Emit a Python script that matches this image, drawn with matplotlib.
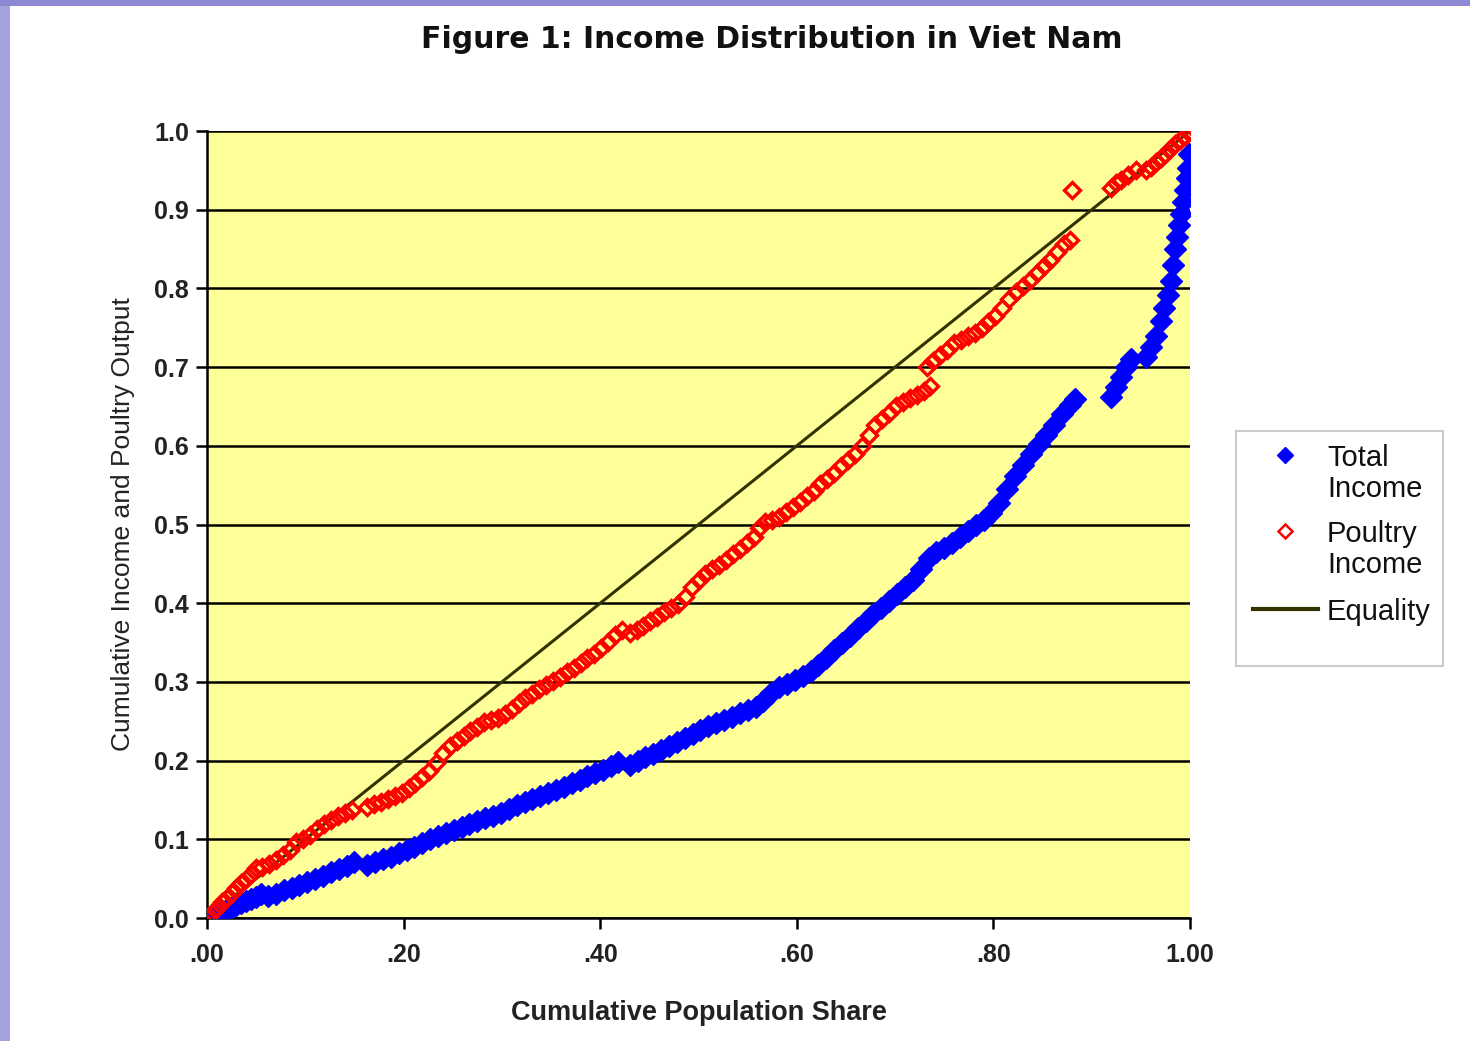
import matplotlib
matplotlib.use("Agg")
import matplotlib.pyplot as plt
from matplotlib.patches import Rectangle
from matplotlib.lines import Line2D
import numpy as np

# Total income: cumulative population share vs cumulative share
total_x = [0.000, 0.005, 0.010, 0.015, 0.020, 0.025, 0.030, 0.035, 0.040, 0.045,
           0.050, 0.055, 0.062, 0.070, 0.078, 0.086, 0.094, 0.102, 0.110, 0.118,
           0.126, 0.134, 0.142, 0.150, 0.163, 0.171, 0.179, 0.187, 0.195, 0.203,
           0.211, 0.219, 0.227, 0.235, 0.243, 0.251, 0.259, 0.267, 0.275, 0.283,
           0.291, 0.299, 0.307, 0.315, 0.323, 0.331, 0.339, 0.347, 0.355, 0.363,
           0.371, 0.379, 0.387, 0.395, 0.403, 0.411, 0.418, 0.430, 0.438, 0.446,
           0.454, 0.462, 0.470, 0.478, 0.486, 0.494, 0.502, 0.510, 0.518, 0.526,
           0.534, 0.542, 0.550, 0.558, 0.566, 0.574, 0.582, 0.590, 0.598, 0.606,
           0.614, 0.622, 0.630, 0.638, 0.646, 0.654, 0.662, 0.670, 0.678, 0.686,
           0.694, 0.702, 0.710, 0.718, 0.726, 0.734, 0.742, 0.750, 0.758, 0.766,
           0.774, 0.782, 0.790, 0.798, 0.806, 0.814, 0.822, 0.830, 0.838, 0.846,
           0.854, 0.862, 0.870, 0.878, 0.883,
           0.920, 0.925, 0.930, 0.935, 0.940,
           0.955, 0.960, 0.965, 0.970, 0.974, 0.978, 0.981, 0.983, 0.985, 0.987,
           0.989, 0.991, 0.993, 0.995, 0.997, 0.998, 0.999]
total_y = [0.000, 0.002, 0.005, 0.008, 0.011, 0.014, 0.017, 0.019, 0.022, 0.024,
           0.027, 0.030, 0.028, 0.031, 0.035, 0.038, 0.042, 0.046, 0.050, 0.054,
           0.058, 0.062, 0.066, 0.071, 0.067, 0.071, 0.075, 0.078, 0.082, 0.086,
           0.090, 0.095, 0.100, 0.104, 0.108, 0.112, 0.115, 0.119, 0.123, 0.127,
           0.130, 0.134, 0.139, 0.143, 0.147, 0.151, 0.155, 0.159, 0.163, 0.167,
           0.171, 0.175, 0.180, 0.184, 0.188, 0.193, 0.198, 0.194, 0.199, 0.204,
           0.209, 0.214, 0.219, 0.224, 0.229, 0.234, 0.239, 0.244, 0.248, 0.252,
           0.256, 0.260, 0.264, 0.268, 0.276, 0.286, 0.293, 0.297, 0.302, 0.308,
           0.314, 0.322, 0.330, 0.340, 0.349, 0.358, 0.368, 0.378, 0.386, 0.394,
           0.403, 0.412, 0.420, 0.430, 0.444, 0.457, 0.465, 0.470, 0.476, 0.484,
           0.492, 0.499, 0.506, 0.515, 0.527, 0.545, 0.561, 0.575, 0.589, 0.602,
           0.614, 0.626, 0.640, 0.652, 0.660,
           0.662, 0.675, 0.688, 0.700, 0.710,
           0.713, 0.725, 0.740, 0.758, 0.775, 0.792, 0.810, 0.830, 0.850, 0.865,
           0.880, 0.895, 0.910, 0.925, 0.940, 0.953, 0.971]

# Poultry income
poultry_x = [0.000, 0.005, 0.010, 0.015, 0.020, 0.025, 0.030, 0.035, 0.040, 0.045,
             0.050, 0.056, 0.063, 0.070, 0.077, 0.084, 0.091, 0.098, 0.105, 0.112,
             0.119, 0.126, 0.133, 0.140, 0.148,
             0.163, 0.170, 0.177, 0.184, 0.191, 0.198, 0.205, 0.212, 0.219, 0.226,
             0.233, 0.240, 0.247, 0.254, 0.261, 0.268, 0.275, 0.282, 0.289, 0.296,
             0.303, 0.310, 0.317, 0.324, 0.331, 0.338, 0.345, 0.352, 0.359, 0.366,
             0.373, 0.380, 0.387, 0.394, 0.401, 0.408, 0.415, 0.422, 0.430, 0.437,
             0.444, 0.451, 0.458, 0.465, 0.472, 0.479, 0.486, 0.493, 0.500, 0.507,
             0.514, 0.521, 0.528, 0.535, 0.542, 0.549, 0.556, 0.562, 0.568, 0.575,
             0.582, 0.589, 0.596, 0.603, 0.610, 0.617, 0.624, 0.631, 0.638, 0.645,
             0.652, 0.659, 0.666, 0.673, 0.680, 0.687, 0.694, 0.701, 0.708, 0.715,
             0.722, 0.729, 0.736,
             0.732, 0.739, 0.746, 0.753, 0.760, 0.767, 0.774, 0.781, 0.788, 0.795,
             0.802, 0.809, 0.816, 0.823, 0.830, 0.837, 0.844, 0.851, 0.858, 0.865,
             0.872, 0.878,
             0.880,
             0.920, 0.925, 0.930, 0.937, 0.945, 0.955, 0.960, 0.965, 0.970, 0.975,
             0.980, 0.985, 0.990, 0.995, 1.000]
poultry_y = [0.000, 0.006, 0.013, 0.020, 0.026, 0.032, 0.038, 0.044, 0.050, 0.056,
             0.063, 0.065, 0.069, 0.074, 0.080, 0.087, 0.097, 0.101, 0.106, 0.113,
             0.119, 0.125, 0.130, 0.134, 0.137,
             0.141, 0.145, 0.148, 0.151, 0.155, 0.159, 0.165, 0.172, 0.179, 0.187,
             0.197, 0.210, 0.219, 0.225, 0.231, 0.237, 0.243, 0.249, 0.252, 0.254,
             0.259, 0.266, 0.273, 0.279, 0.285, 0.291, 0.296, 0.301, 0.306, 0.312,
             0.318, 0.324, 0.330, 0.336, 0.343, 0.351, 0.360, 0.366, 0.362, 0.366,
             0.371, 0.377, 0.383, 0.389, 0.394, 0.399, 0.408, 0.420, 0.430, 0.437,
             0.443, 0.449, 0.455, 0.462, 0.469, 0.476, 0.484, 0.495, 0.503, 0.506,
             0.510, 0.516, 0.522, 0.529, 0.536, 0.543, 0.551, 0.558, 0.566, 0.574,
             0.582, 0.590, 0.600, 0.614, 0.626, 0.634, 0.642, 0.650, 0.656, 0.661,
             0.665, 0.669, 0.676,
             0.700, 0.708, 0.715, 0.722, 0.730, 0.735, 0.739, 0.743, 0.750, 0.757,
             0.765, 0.775, 0.786, 0.796, 0.803, 0.811, 0.820, 0.829, 0.836, 0.846,
             0.856, 0.862,
             0.925,
             0.928, 0.934, 0.938, 0.944, 0.950, 0.950, 0.954, 0.960, 0.966, 0.971,
             0.977, 0.983, 0.988, 0.994, 1.000]

equality = [0.0, 1.0]

plt.rcParams['font.family'] = ['Liberation Sans', 'DejaVu Sans']

W, H = 1470, 1041
fig = plt.figure(figsize=(14.7, 10.41), dpi=100)
fig.patch.set_facecolor('white')

def fx(px):
    return px / W

def fy(py):
    return 1 - py / H

# slide background strips (left and top)
fig.patches.append(Rectangle((0, 0), fx(10), 1, transform=fig.transFigure,
                             facecolor='#a3a3dd', edgecolor='none', zorder=0))
fig.patches.append(Rectangle((0, fy(6)), 1, 6/H, transform=fig.transFigure,
                             facecolor='#8c88d4', edgecolor='none', zorder=0))

ax = fig.add_axes([fx(207), fy(918), (1190 - 207)/W, (918 - 131)/H])
ax.set_facecolor('#ffff99')

ax.plot(equality, equality, color='#333300', lw=2.2, zorder=2)
ax.plot(total_x, total_y, ls='none', marker='D', ms=11, color='#0000ff',
        mec='#0000ff', zorder=3)
ax.plot(poultry_x, poultry_y, ls='none', marker='D', ms=8, mfc='none',
        mec='#ff0000', mew=2.4, zorder=4)

ax.set_xlim(0, 1)
ax.set_ylim(0, 1)
ax.set_yticks(np.arange(0, 1.01, 0.1))
ax.set_yticklabels(['%.1f' % v for v in np.arange(0, 1.01, 0.1)],
                   fontsize=18, fontweight='bold', color='#222222')
ax.set_xticks([0, 0.2, 0.4, 0.6, 0.8, 1.0])
ax.set_xticklabels(['.00', '.20', '.40', '.60', '.80', '1.00'],
                   fontsize=18, fontweight='bold', color='#222222')
ax.yaxis.grid(True, color='black', lw=1.8)
ax.set_axisbelow(True)
ax.tick_params(axis='both', direction='out', length=8, width=1.8, color='black')
ax.tick_params(axis='y', pad=5)
ax.tick_params(axis='x', pad=10)
for s in ['top', 'right']:
    ax.spines[s].set_visible(False)
for s in ['left', 'bottom']:
    ax.spines[s].set_linewidth(1.8)

ax.set_xlabel('Cumulative Population Share', fontsize=19.5, fontweight='bold',
              color='#222222', labelpad=24)
ax.set_ylabel('Cumulative Income and Poultry Output', fontsize=19,
              color='#222222', labelpad=14)

fig.text(fx(772), fy(40), 'Figure 1: Income Distribution in Viet Nam',
         ha='center', va='center', fontsize=21.5, fontweight='bold',
         family='DejaVu Sans', color='#111111')

# legend, built by hand so the markers sit on the first text line
fig.patches.append(Rectangle((fx(1236), fy(666)), 207/W, 235/H,
                             transform=fig.transFigure, facecolor='white',
                             edgecolor='#cccccc', lw=1.5, zorder=1))
fig.lines.append(Line2D([fx(1285)], [fy(455)], transform=fig.transFigure,
                        ls='none', marker='D', ms=8, color='#0000ff'))
fig.lines.append(Line2D([fx(1285)], [fy(531)], transform=fig.transFigure,
                        ls='none', marker='D', ms=7, mfc='none', mec='#ff0000', mew=1.8))
fig.lines.append(Line2D([fx(1253), fx(1318)], [fy(609), fy(609)],
                        transform=fig.transFigure, color='#333300', lw=3))
leg_lines = [('Total', 455), ('Income', 486), ('Poultry', 531),
             ('Income', 562), ('Equality', 609)]
for txt, py in leg_lines:
    fig.text(fx(1327), fy(py), txt, ha='left', va='center_baseline',
             fontsize=21, color='#111111')

fig.savefig('out.png', dpi=100)
